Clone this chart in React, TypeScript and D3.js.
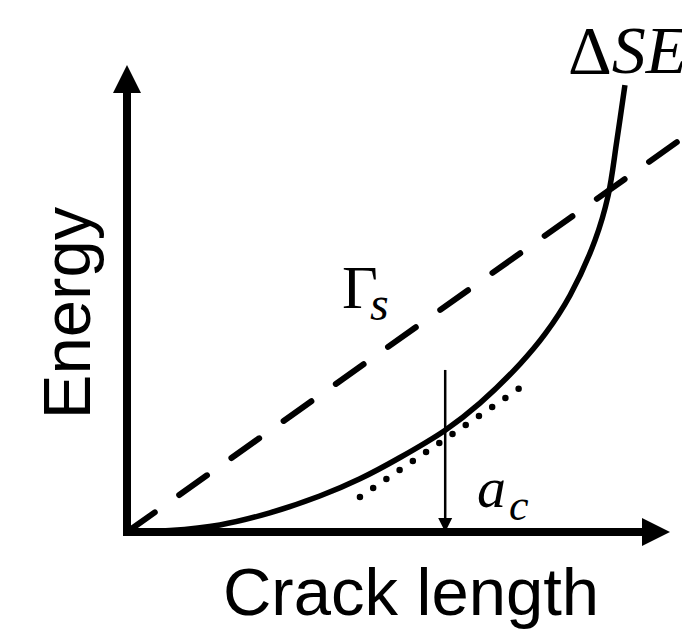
import React from "react";
import * as d3 from "d3";

const W = 682;
const H = 631;

// Solid curve ΔSE (data units)
const seX = [0, 0.79, 1.71, 2.63, 3.55, 4.29, 5.02, 5.86, 6.5, 7.24, 7.7, 8.16, 8.62, 8.86, 9.02, 9.17];
const seY = [0, 0.03, 0.15, 0.41, 0.77, 1.14, 1.59, 2.18, 2.76, 3.6, 4.24, 5.07, 6.25, 7.2, 8.37, 9.57];
// Dashed line Γs
const gammaX = [0, 10.25];
const gammaY = [0, 8.45];
// Dotted tangent
const tanX = [4.29, 7.37];
const tanY = [0.75, 3.19];
// critical crack length
const acX = 5.86;
const acTop = 3.47;

const xLabel = "Crack length";
const yLabel = "Energy";

export default function App() {
  const x = d3.scaleLinear().domain([0, 10]).range([127, 670]);
  const y = d3.scaleLinear().domain([0, 10]).range([532, 65]);
  const line = d3
    .line<[number, number]>()
    .x((d) => x(d[0]))
    .y((d) => y(d[1]));
  const seLine = d3
    .line<[number, number]>()
    .x((d) => x(d[0]))
    .y((d) => y(d[1]))
    .curve(d3.curveCatmullRom.alpha(0.5));

  const sePts = seX.map((v, i) => [v, seY[i]] as [number, number]);
  const gPts = gammaX.map((v, i) => [v, gammaY[i]] as [number, number]);
  const tPts = tanX.map((v, i) => [v, tanY[i]] as [number, number]);

  const x0 = x(0);
  const y0 = y(0);
  const xEnd = x(10);
  const yEnd = y(10);
  const ah = 28; // arrowhead length
  const aw = 14; // arrowhead half width

  const axAc = x(acX);

  return (
    <svg
      width={W}
      height={H}
      style={{ position: "absolute", left: 0, top: 0, background: "#fff" }}
    >
      <rect x={0} y={0} width={W} height={H} fill="#fff" />
      {/* axes */}
      <line x1={x0} y1={y0 + 4} x2={x0} y2={yEnd + ah - 2} stroke="#000" strokeWidth={8} />
      <polygon
        points={`${x0},${yEnd} ${x0 - aw},${yEnd + ah} ${x0 + aw},${yEnd + ah}`}
        fill="#000"
      />
      <line x1={x0 - 4} y1={y0} x2={xEnd - ah + 2} y2={y0} stroke="#000" strokeWidth={8} />
      <polygon
        points={`${xEnd},${y0} ${xEnd - ah},${y0 - aw} ${xEnd - ah},${y0 + aw}`}
        fill="#000"
      />

      {/* dashed Γs line */}
      <path
        d={line(gPts) || ""}
        fill="none"
        stroke="#000"
        strokeWidth={6}
        strokeDasharray="34 30"
        strokeLinecap="round"
      />
      {/* dotted tangent */}
      <path
        d={line(tPts) || ""}
        fill="none"
        stroke="#000"
        strokeWidth={6.5}
        strokeDasharray="0 16"
        strokeLinecap="round"
      />
      {/* solid ΔSE curve */}
      <path d={seLine(sePts) || ""} fill="none" stroke="#000" strokeWidth={5.5} />

      {/* a_c arrow */}
      <line x1={axAc} y1={y(acTop)} x2={axAc} y2={y0 - 10} stroke="#000" strokeWidth={2.5} />
      <polygon
        points={`${axAc},${y0} ${axAc - 7},${y0 - 14} ${axAc + 7},${y0 - 14}`}
        fill="#000"
      />

      {/* labels */}
      <text
        x={411}
        y={615}
        textAnchor="middle"
        fontFamily="'Liberation Sans', Arial, sans-serif"
        fontSize={67}
        fill="#000"
      >
        {xLabel}
      </text>
      <text
        transform={`translate(90,313) rotate(-90)`}
        textAnchor="middle"
        fontFamily="'Liberation Sans', Arial, sans-serif"
        fontSize={67}
        fill="#000"
      >
        {yLabel}
      </text>
      <text
        x={568}
        y={73}
        fontFamily="'Liberation Serif', 'Times New Roman', serif"
        fontSize={68}
        fill="#000"
      >
        Δ<tspan fontStyle="italic">SE</tspan>
      </text>
      <text
        x={342}
        y={308}
        fontFamily="'Liberation Serif', 'Times New Roman', serif"
        fontSize={62}
        fill="#000"
      >
        Γ
      </text>
      <text
        x={370}
        y={320}
        fontFamily="'Liberation Serif', 'Times New Roman', serif"
        fontStyle="italic"
        fontSize={48}
        fill="#000"
      >
        s
      </text>
      <text
        x={477}
        y={507}
        fontFamily="'Liberation Serif', 'Times New Roman', serif"
        fontStyle="italic"
        fontSize={58}
        fill="#000"
      >
        a
      </text>
      <text
        x={509}
        y={520}
        fontFamily="'Liberation Serif', 'Times New Roman', serif"
        fontStyle="italic"
        fontSize={44}
        fill="#000"
      >
        c
      </text>
    </svg>
  );
}
